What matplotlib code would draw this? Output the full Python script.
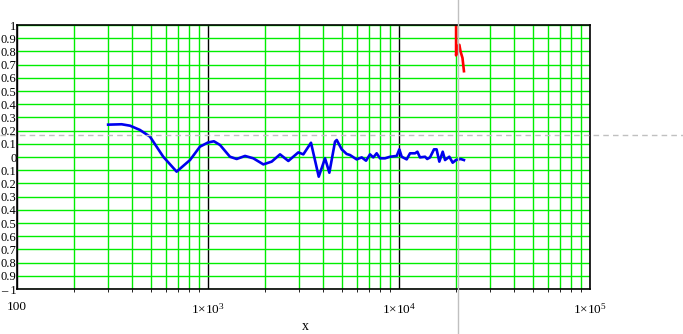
import numpy as np
import matplotlib
matplotlib.use("Agg")
import matplotlib.pyplot as plt
from matplotlib.lines import Line2D
from matplotlib.ticker import FixedLocator

plt.rcParams["font.family"] = ["Liberation Serif", "DejaVu Serif"]
plt.rcParams["mathtext.fontset"] = "custom"
plt.rcParams["mathtext.rm"] = "Liberation Serif"
plt.rcParams["mathtext.it"] = "Liberation Serif"

# blue trace (x, y)
blue_x = [300, 353, 391, 440, 497, 583, 685, 805, 907, 1000, 1074, 1156, 1303,
          1413, 1563, 1727, 1949, 2155, 2383, 2634, 2971, 3156, 3461, 3800,
          4100, 4318, 4624, 4720, 5013, 5320, 5538, 6000, 6380, 6720, 7050,
          7336, 7640, 7955, 8450, 8980, 9730, 10040, 10330, 10970, 11420,
          12140, 12480, 12880, 13690, 14050, 14530, 15250, 15730, 16260,
          16940, 17420, 18340, 19100, 19870, 21030, 21880]
blue_y = [0.245, 0.248, 0.237, 0.205, 0.154, 0.002, -0.111, -0.023, 0.078,
          0.11, 0.119, 0.091, 0.002, -0.015, 0.008, -0.01, -0.056, -0.035,
          0.02, -0.03, 0.035, 0.02, 0.108, -0.149, -0.01, -0.119, 0.116,
          0.129, 0.058, 0.023, 0.015, -0.018, -0.003, -0.028, 0.02, -0.003,
          0.028, -0.01, -0.01, 0.002, 0.008, 0.058, 0.002, -0.018, 0.028,
          0.028, 0.04, -0.003, 0.002, -0.015, -0.003, 0.058, 0.058, -0.035,
          0.04, -0.023, 0.002, -0.043, -0.023, -0.015, -0.023]

# red trace
red_x = [19900, 19900, 20300, 20700, 21000, 21500, 21880]
red_y = [1.02, 0.77, 0.84, 0.85, 0.80, 0.75, 0.65]

# cursor position
cursor_x = 20440
cursor_y = 0.167

y_ticks = [round(v, 1) for v in np.arange(-1.0, 1.01, 0.1)]
y_labels = ["\u2013 1", "0.9", "0.8", "0.7", "0.6", "0.5", "0.4", "0.3", "0.2",
            "0.1", "0", "0.1", "0.2", "0.3", "0.4", "0.5", "0.6", "0.7",
            "0.8", "0.9", "1"]
x_ticks = [100, 1e3, 1e4, 1e5]
x_labels = ["100", r"$1{\times}10^{3}$", r"$1{\times}10^{4}$", r"$1{\times}10^{5}$"]

W, H = 683, 334
fig = plt.figure(figsize=(W / 100, H / 100), dpi=100)
ax = fig.add_axes([17 / W, (H - 289) / H, (590 - 17) / W, (289 - 25) / H])

ax.set_xscale("log")
ax.set_xlim(100, 1e5)
ax.set_ylim(-1, 1)

minor = [m * 10 ** d for d in range(2, 5) for m in range(2, 10)]
ax.xaxis.set_major_locator(FixedLocator(x_ticks))
ax.xaxis.set_minor_locator(FixedLocator(minor))
ax.set_xticks(x_ticks, x_labels)
ax.set_yticks(y_ticks, y_labels)

ax.grid(True, which="minor", axis="x", color="#00ee00", lw=1.0)
ax.grid(True, which="major", axis="x", color="black", lw=1.0)
ax.grid(True, which="major", axis="y", color="#00ee00", lw=1.0)
ax.tick_params(length=0)
ax.tick_params(axis="x", labelsize=9.5, pad=9)
ax.tick_params(axis="y", labelsize=9, pad=0.5)
ax.set_axisbelow(True)
for s in ax.spines.values():
    s.set_linewidth(1.2)

ax.plot(blue_x, blue_y, color="#0000ee", lw=1.9, solid_joinstyle="round")
ax.plot(red_x, red_y, color="red", lw=1.9, clip_on=True)

ax.set_xlabel("x", fontsize=10, va="center")
ax.xaxis.set_label_coords(0.503, -38 / 264)

# cursor crosshair spanning the whole figure
fig.canvas.draw()
px, py = ax.transData.transform((cursor_x, cursor_y))
fx, fy = fig.transFigure.inverted().transform((px, py))
fig.add_artist(Line2D([fx, fx], [0, 1], color="#c0c0c0", lw=1.0, zorder=10))
fig.add_artist(Line2D([0, 1], [fy, fy], color="#c0c0c0", lw=1.0,
                      ls=(0, (4, 3)), zorder=10))

fig.savefig("out.png", dpi=100)
